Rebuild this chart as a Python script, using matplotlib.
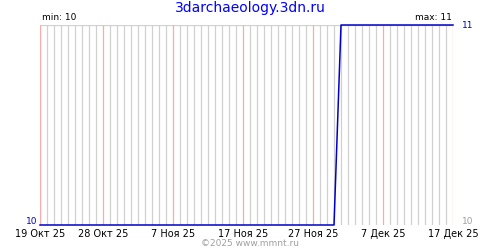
import matplotlib
matplotlib.use("Agg")
import matplotlib.pyplot as plt

title = "3darchaeology.3dn.ru"
n_days = 60  # 19 Oct .. 17 Dec
values = [10] * 43 + [11] * 17
tick_pos = [0, 9, 19, 29, 39, 49, 59]
tick_labels = ["19 Окт 25", "28 Окт 25", "7 Ноя 25", "17 Ноя 25", "27 Ноя 25", "7 Дек 25", "17 Дек 25"]
ymin, ymax = 10, 11

fig = plt.figure(figsize=(5, 2.5), dpi=100)
ax = fig.add_axes([40/500, 25/250, 413/500, 200/250])
days = list(range(len(values)))
ax.set_xlim(0, n_days - 1)
ax.set_ylim(ymin, ymax)

grey_days = [d for d in range(n_days) if d not in tick_pos]
ax.vlines(grey_days, ymin, ymax, colors="#d0d0d0", lw=0.9, zorder=1)
ax.vlines(tick_pos, ymin, ymax, colors="#ffa8a8", lw=0.9, zorder=2)
ax.axhline(ymax, color="#d0d0d0", lw=0.9, zorder=1)

ax.plot(days, values, color="#0000cc", lw=1.1, zorder=3, clip_on=False)

for s in ax.spines.values():
    s.set_visible(False)
ax.set_yticks([])
ax.set_xticks(tick_pos)
ax.set_xticklabels(tick_labels, fontsize=7, family="DejaVu Sans")
ax.tick_params(axis="x", length=0, pad=3)

fig.text(0.5, 1 - 8/250, title, ha="center", va="center", color="#0000ff", fontsize=10)
fig.text(42/500, 1 - 18/250, f"min: {min(values)}", ha="left", va="center", fontsize=6.5)
fig.text(452/500, 1 - 18/250, f"max: {max(values)}", ha="right", va="center", fontsize=6.5)
fig.text(37/500, 1 - 222/250, str(ymin), ha="right", va="center", color="#0000cc", fontsize=6.5)
fig.text(462/500, 1 - 26/250, str(ymax), ha="left", va="center", color="#0000cc", fontsize=6.5)
fig.text(462/500, 1 - 222/250, str(ymin), ha="left", va="center", color="#a0a0a0", fontsize=6.5)
fig.text(0.5, 1 - 243/250, "©2025 www.mmnt.ru", ha="center", va="center", color="#a0a0a0", fontsize=6.5)

fig.savefig("out.png", dpi=100)
